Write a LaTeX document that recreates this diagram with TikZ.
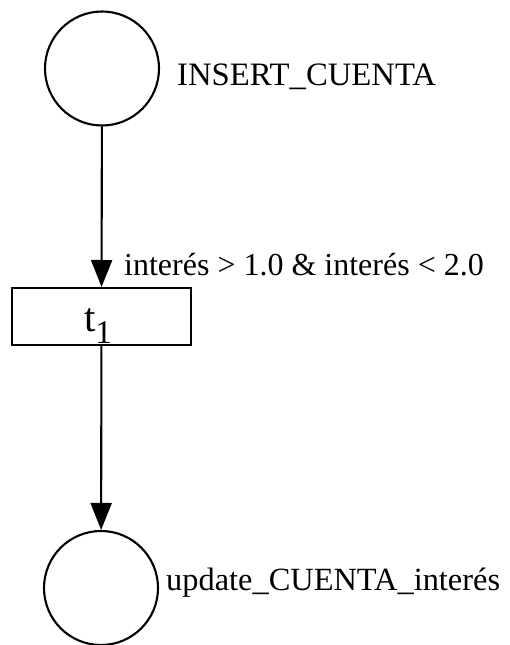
\documentclass[tikz,border=0pt]{standalone}
\usepackage{fontspec}
\setmainfont{Liberation Serif}
\usetikzlibrary{arrows.meta}

\begin{document}
\begin{tikzpicture}[x=1pt,y=1pt]
                          \tikzstyle{every node}+=[inner sep=0pt]
                          \tikzstyle{place}=[draw=black,line width=2.1pt,circle,minimum size=114pt]
                          \tikzstyle{transition}=[draw=black,line width=2pt,rectangle,minimum width=179pt,minimum height=57pt]
                          \tikzstyle{arc}=[black,line width=2.1pt,-{Triangle[length=27pt,width=21pt]}]
                          \tikzstyle{lbl}=[font=\fontsize{32}{38}\selectfont,anchor=base west]
                          \useasboundingbox (0,0) rectangle (510,-645);
                          \node [place] (p1) at (102,-68.5) {};
                          \node [lbl,font=\fontsize{32.7}{38}\selectfont] (p1lbl) at (177,-85) {INSERT\_CUENTA};
                          \node [transition] (t1) at (101.5,-316.5) {};
                          \node [anchor=base] (t1lbl) at (98,-331) {\fontsize{41}{41}\selectfont t\raisebox{-12pt}{\fontsize{33}{33}\selectfont 1}};
                          \node [lbl] (guard) at (124,-275) {interés > 1.0 \& interés < 2.0};
                          \node [place] (p2) at (101,-588) {};
                          \node [lbl,font=\fontsize{32.4}{38}\selectfont] (p2lbl) at (166,-590) {update\_CUENTA\_interés};
                          \draw [arc] (p1) -- (t1);
                          \draw [arc] (t1) -- (p2);
                      \end{tikzpicture}
\end{document}
